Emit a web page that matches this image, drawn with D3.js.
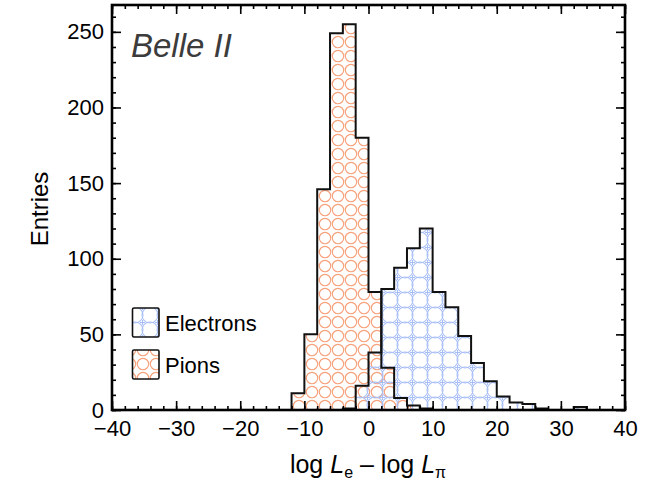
<!DOCTYPE html>
<html>
<head>
<meta charset="utf-8">
<script src="https://cdn.jsdelivr.net/npm/d3@7"></script>
<style>
body { margin: 0; background: #fff; }
text { font-family: "Liberation Sans", Arial, Helvetica, sans-serif; }
</style>
</head>
<body>
<div id="chart"></div>
<script>
// histogram data, bins are 2 units wide, value = lower bin edge
const binWidth = 2;
const pionBins = [-12, -10, -8, -6, -4, -2, 0, 2, 4, 6, 8];
const pionCounts = [11, 50, 146, 249, 255, 180, 78, 28, 8, 3, 1];
const electronBins = [-4, -2, 0, 2, 4, 6, 8, 10, 12, 14, 16, 18, 20, 22, 24, 26, 28, 30, 32];
const electronCounts = [1, 16, 38, 80, 94, 107, 120, 78, 68, 49, 31, 19, 9, 5, 4, 1, 0, 0, 2];

const xTicks = [-40, -30, -20, -10, 0, 10, 20, 30, 40];
const yTicks = [0, 50, 100, 150, 200, 250];
const legendNames = ['Electrons', 'Pions'];

const W = 651, H = 483;
const m = {left: 112, right: 625, top: 5, bottom: 410};

const svg = d3.select('#chart').append('svg').attr('width', W).attr('height', H);

const x = d3.scaleLinear().domain([-40, 40]).range([m.left, m.right]);
const y = d3.scaleLinear().domain([0, d3.max(pionCounts) * 1.05]).range([m.bottom, m.top]);

// hatch patterns
const defs = svg.append('defs');
let pp = defs.append('pattern').attr('id', 'pionHatch').attr('patternUnits', 'userSpaceOnUse')
    .attr('width', 26).attr('height', 28);
// corners + centre form one lattice, edge midpoints the shifted one
[[0, 0], [26, 0], [0, 28], [26, 28], [13, 14], [13, 0], [13, 28], [0, 14], [26, 14]].forEach(function (c) {
    pp.append('circle').attr('cx', c[0]).attr('cy', c[1]).attr('r', 5.7)
        .attr('fill', 'none').attr('stroke', '#f6a27c').attr('stroke-width', 1.15);
});

// electrons: square lattice of rings that just overlap their neighbours
const es = 15, er = 8;
let ep = defs.append('pattern').attr('id', 'elecHatch').attr('patternUnits', 'userSpaceOnUse')
    .attr('width', es).attr('height', es);
[[0, 0], [es, 0], [0, es], [es, es]].forEach(function (c) {
    ep.append('circle').attr('cx', c[0]).attr('cy', c[1]).attr('r', er)
        .attr('fill', 'none').attr('stroke', '#a6bdf6').attr('stroke-width', 1.05);
});
ep.append('path').attr('d', `M${es / 2},${es / 2 - 2.5}V${es / 2 + 2.5}M${es / 2 - 2.5},${es / 2}H${es / 2 + 2.5}`)
    .attr('stroke', '#a6bdf6').attr('stroke-width', 1);

// step outline of a histogram
function stepPoints(bins, counts) {
    let pts = [[bins[0], 0]];
    bins.forEach(function (b, i) {
        pts.push([b, counts[i]]);
        pts.push([b + binWidth, counts[i]]);
    });
    pts.push([bins[bins.length - 1] + binWidth, 0]);
    return pts;
}
const line = d3.line().x(d => x(d[0])).y(d => y(d[1]));

const pionPts = stepPoints(pionBins, pionCounts);
const elecPts = stepPoints(electronBins, electronCounts);

svg.append('path').attr('d', line(pionPts) + 'Z').attr('fill', 'url(#pionHatch)');
svg.append('path').attr('d', line(elecPts) + 'Z').attr('fill', 'url(#elecHatch)');
svg.append('path').attr('d', line(pionPts)).attr('fill', 'none').attr('stroke', '#111').attr('stroke-width', 2);
svg.append('path').attr('d', line(elecPts)).attr('fill', 'none').attr('stroke', '#111').attr('stroke-width', 2);

// axes, ticks pointing inwards on all four sides
function styleAxis(g) {
    g.select('.domain').remove();
    g.selectAll('.tick line').attr('stroke', '#000').attr('stroke-width', 1.6);
    g.selectAll('text').attr('font-size', 22).attr('fill', '#000')
        .style('font-family', '"Liberation Sans", Arial, sans-serif');
}
const xMinor = d3.range(-40, 41, 2);
const yMinor = d3.range(0, 261, 10);

svg.append('g').attr('transform', `translate(0,${m.bottom})`)
    .call(d3.axisBottom(x).tickValues(xMinor).tickSize(-4).tickFormat('')).call(styleAxis);
svg.append('g').attr('transform', `translate(0,${m.bottom})`)
    .call(d3.axisBottom(x).tickValues(xTicks).tickSize(-9).tickPadding(10)).call(styleAxis);
svg.append('g').attr('transform', `translate(0,${m.top})`)
    .call(d3.axisTop(x).tickValues(xMinor).tickSize(-4).tickFormat('')).call(styleAxis);
svg.append('g').attr('transform', `translate(0,${m.top})`)
    .call(d3.axisTop(x).tickValues(xTicks).tickSize(-9).tickFormat('')).call(styleAxis);

svg.append('g').attr('transform', `translate(${m.left},0)`)
    .call(d3.axisLeft(y).tickValues(yMinor).tickSize(-4).tickFormat('')).call(styleAxis);
svg.append('g').attr('transform', `translate(${m.left},0)`)
    .call(d3.axisLeft(y).tickValues(yTicks).tickSize(-9).tickPadding(8)).call(styleAxis);
svg.append('g').attr('transform', `translate(${m.right},0)`)
    .call(d3.axisRight(y).tickValues(yMinor).tickSize(-4).tickFormat('')).call(styleAxis);
svg.append('g').attr('transform', `translate(${m.right},0)`)
    .call(d3.axisRight(y).tickValues(yTicks).tickSize(-9).tickFormat('')).call(styleAxis);

svg.append('rect').attr('x', m.left).attr('y', m.top)
    .attr('width', m.right - m.left).attr('height', m.bottom - m.top)
    .attr('fill', 'none').attr('stroke', '#000').attr('stroke-width', 2.6);

// labels
svg.append('text').attr('x', 131).attr('y', 57).attr('font-size', 33).attr('font-style', 'italic')
    .attr('fill', '#3c3c3c').text('Belle II');

svg.append('text').attr('transform', 'translate(48,209) rotate(-90)').attr('text-anchor', 'middle')
    .attr('font-size', 24).text('Entries');

let xl = svg.append('text').attr('x', 368).attr('y', 473).attr('text-anchor', 'middle').attr('font-size', 25);
xl.append('tspan').text('log ');
xl.append('tspan').attr('font-style', 'italic').text('L');
xl.append('tspan').attr('font-size', 16).attr('dy', 5).text('e');
xl.append('tspan').attr('dy', -5).text(' \u2013 log ');
xl.append('tspan').attr('font-style', 'italic').text('L');
xl.append('tspan').attr('font-size', 16).attr('dy', 5).text('\u03c0');

// legend
const legendFill = ['url(#elecHatch)', 'url(#pionHatch)'];
legendNames.forEach(function (name, i) {
    let ly = 308 + i * 42;
    svg.append('rect').attr('x', 132.5).attr('y', ly).attr('width', 26.5).attr('height', 29)
        .attr('rx', 1.5).attr('fill', legendFill[i]).attr('stroke', '#111').attr('stroke-width', 1.6);
    svg.append('text').attr('x', 165).attr('y', ly + 23).attr('font-size', 22).text(name);
});
</script>
</body>
</html>
